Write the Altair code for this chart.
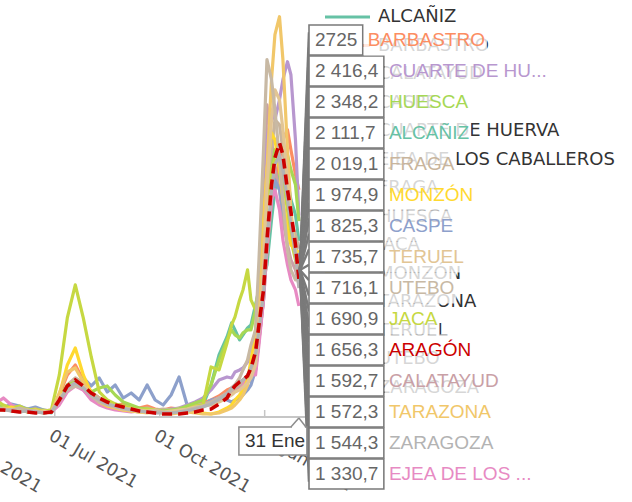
import altair as alt
import pandas as pd

# ---------------- data ----------------
dates = [
    "2021-05-10", "2021-05-17", "2021-05-24", "2021-05-31", "2021-06-07", "2021-06-14",
    "2021-06-21", "2021-06-28", "2021-07-05", "2021-07-12", "2021-07-19", "2021-07-26",
    "2021-08-02", "2021-08-09", "2021-08-16", "2021-08-23", "2021-08-30", "2021-09-06",
    "2021-09-13", "2021-09-20", "2021-09-27", "2021-10-04", "2021-10-11", "2021-10-18",
    "2021-10-25", "2021-11-01", "2021-11-08", "2021-11-15", "2021-11-22", "2021-11-29",
    "2021-12-03", "2021-12-06", "2021-12-10", "2021-12-13", "2021-12-17", "2021-12-20",
    "2021-12-24", "2021-12-27", "2021-12-31", "2022-01-03", "2022-01-07", "2022-01-10",
    "2022-01-14", "2022-01-17", "2022-01-21", "2022-01-24", "2022-01-28", "2022-01-31",
]

alcaniz = [84, 108, 72, 96, 60, 84, 72, 48,
           204, 324, 384, 348, 264, 204,
           168, 144, 120, 108, 84, 72, 84, 72, 60, 84, 108, 144, 144, 384, 744, 960,
           1128, 1044, 924, 984, 1068, 1104, 1344, 1524, 1668, 1824, 2364, 2724, 2964, 3024, 2844, 2604, 2424, 2111.7]
aragon = [84, 84, 72, 60, 60, 48, 48, 60,
          204, 372, 444, 372, 288, 228,
          180, 144, 120, 96, 72, 60, 48, 36, 36, 36, 48, 60, 84, 96, 156, 228,
          324, 372, 420, 444, 492, 588, 780, 1104, 1524, 2124, 2784, 3108, 3288, 3144, 2724, 2460, 2064, 1656.3]
barbastro = [144, 108, 132, 96, 84, 108, 72, 84,
             264, 504, 624, 444, 300, 228,
             180, 144, 156, 120, 108, 132, 96, 84, 108, 96, 120, 144, 168, 204, 252, 324,
             348, 384, 408, 444, 492, 540, 564, 924, 1404, 2004, 2604, 2844, 3084, 3324, 3444, 3204, 2904, 2725]
calatayud = [96, 120, 84, 72, 96, 60, 84, 72,
             180, 324, 420, 360, 264, 204,
             168, 132, 108, 96, 84, 72, 60, 72, 84, 72, 96, 120, 144, 180, 228, 276,
             300, 324, 360, 384, 420, 444, 684, 1404, 2604, 3744, 3324, 2964, 2724, 2364, 2064, 1884, 1764, 1592.7]
caspe = [144, 108, 156, 132, 96, 120, 84, 72,
         204, 324, 384, 468, 372, 468,
         300, 384, 228, 288, 204, 384, 204, 144, 264, 480, 144, 108, 144, 204, 228, 204,
         180, 204, 228, 264, 324, 384, 564, 924, 1404, 2124, 2604, 2844, 2724, 2484, 2244, 2124, 2124, 1825.3]
cuarte = [120, 96, 84, 108, 72, 84, 60, 72,
          204, 348, 384, 324, 228, 168,
          144, 108, 84, 72, 60, 60, 72, 84, 96, 108, 144, 180, 228, 324, 444, 480,
          468, 540, 564, 588, 660, 720, 684, 1164, 2124, 3324, 3684, 3564, 3804, 4044, 4260, 4104, 3324, 2416.4]
ejea = [156, 228, 144, 108, 84, 96, 72, 60,
        144, 300, 372, 324, 204, 144,
        108, 84, 72, 60, 72, 60, 48, 60, 72, 84, 96, 120, 144, 180, 228, 288,
        324, 348, 372, 396, 444, 504, 504, 864, 1404, 2004, 2604, 2724, 2484, 2124, 1824, 1644, 1524, 1330.7]
fraga = [132, 96, 108, 84, 96, 72, 60, 84,
         228, 384, 468, 408, 300, 228,
         180, 156, 132, 120, 96, 108, 84, 96, 84, 108, 120, 144, 156, 180, 228, 288,
         324, 348, 384, 444, 504, 588, 744, 1164, 1884, 2604, 3204, 3564, 3504, 3204, 2724, 2364, 2184, 2019.1]
huesca = [108, 132, 96, 84, 96, 72, 84, 60,
          228, 384, 420, 384, 300, 348,
          372, 264, 180, 144, 108, 96, 84, 72, 84, 96, 132, 168, 204, 384, 684, 924,
          1044, 984, 948, 1008, 1044, 1044, 1284, 1584, 2124, 2604, 2964, 3204, 3264, 3204, 3144, 2964, 2784, 2348.2]
jaca = [204, 144, 108, 132, 84, 96, 72, 84,
        504, 1188, 1584, 1188, 720, 300,
        204, 156, 132, 108, 84, 96, 84, 60, 72, 84, 96, 132, 144, 600, 564, 888,
        1104, 1200, 1404, 1524, 1764, 1404, 1284, 1524, 2004, 2604, 2964, 3084, 3024, 2844, 2484, 2124, 1884, 1690.9]
monzon = [96, 84, 120, 72, 84, 60, 72, 60,
          264, 624, 828, 504, 288, 180,
          132, 108, 84, 72, 60, 72, 60, 48, 60, 72, 84, 60, 48, 36, 60, 108,
          144, 204, 264, 324, 444, 684, 1044, 1524, 2364, 2964, 3408, 3324, 2964, 2604, 2244, 2064, 2004, 1974.9]
tarazona = [84, 108, 72, 96, 60, 84, 48, 60,
            288, 540, 588, 420, 276, 180,
            144, 108, 84, 72, 60, 48, 60, 48, 36, 48, 60, 48, 36, 36, 48, 84,
            108, 144, 204, 264, 384, 564, 804, 1284, 2124, 2964, 4044, 4584, 4800, 4284, 3204, 2484, 1944, 1572.3]
teruel = [108, 84, 96, 72, 84, 60, 72, 60,
          228, 348, 408, 372, 264, 204,
          156, 132, 108, 96, 84, 72, 84, 60, 72, 84, 96, 120, 132, 144, 180, 228,
          264, 300, 324, 360, 408, 468, 624, 1044, 1764, 2724, 3564, 3924, 3804, 3444, 2844, 2364, 2004, 1735.7]
utebo = [120, 96, 84, 108, 84, 72, 48, 60,
         204, 324, 372, 348, 252, 180,
         144, 120, 96, 84, 72, 60, 72, 60, 48, 60, 84, 108, 132, 168, 204, 264,
         324, 384, 468, 564, 684, 864, 1044, 1884, 3204, 4284, 4044, 3684, 3084, 2604, 2004, 1764, 1644, 1716.1]
zaragoza = [96, 84, 72, 60, 72, 60, 48, 60,
            192, 348, 408, 348, 264, 204,
            156, 132, 108, 84, 72, 60, 48, 48, 48, 60, 72, 96, 120, 156, 216, 276,
            348, 384, 420, 444, 492, 588, 744, 1044, 1464, 2124, 2724, 3024, 3144, 2964, 2604, 2304, 1944, 1544.3]

series_names = ["ALCAÑIZ", "ARAGÓN", "BARBASTRO", "CALATAYUD", "CASPE", "CUARTE DE HUERVA",
                "EJEA DE LOS CABALLEROS", "FRAGA", "HUESCA", "JACA", "MONZÓN", "TARAZONA",
                "TERUEL", "UTEBO", "ZARAGOZA"]
series_values = [alcaniz, aragon, barbastro, calatayud, caspe, cuarte, ejea, fraga, huesca,
                 jaca, monzon, tarazona, teruel, utebo, zaragoza]
series_colors = ["#66c2a5", "#cc0000", "#fc8d62", "#c9a0a6", "#8da0cb", "#b897cf", "#e78ac3",
                 "#c9b59c", "#a6d854", "#c6d842", "#ffd92f", "#f1c76a", "#e2c594", "#c8b9a4",
                 "#b3b3b3"]
total_name = "ARAGÓN"

tick_dates = ["2021-04-01", "2021-07-01", "2021-10-01", "2022-01-01"]
hover_label = "31 Ene"

# ---------------- layout constants ----------------
W, H = 632, 417
X_START = alt.DateTime(year=2021, month=5, date=14)
X_END = alt.DateTime(year=2022, month=11, date=19)
AXIS_END = "2022-02-08"
Y_MAX = 5000
FONT_TIP = "Liberation Sans"
FONT_LEG = "DejaVu Sans"

# ---------------- tables ----------------
fechas = pd.to_datetime(dates)
rows = []
for name, vals in zip(series_names, series_values):
    for f, v in zip(fechas, vals):
        rows.append({"fecha": f, "serie": name, "valor": v})
df = pd.DataFrame(rows)
df_others = df[df["serie"] != total_name]
df_total = df[df["serie"] == total_name]

xs = alt.Scale(domain=[X_START, X_END])
ys = alt.Scale(domain=[0, Y_MAX])
X = alt.X("fecha:T", scale=xs, axis=None, title=None)
Y = alt.Y("valor:Q", scale=ys, axis=None, title=None)

base_df = pd.DataFrame({"fecha": [pd.Timestamp("2021-05-14")], "fecha2": [pd.Timestamp(AXIS_END)], "valor": [0]})
ticks_df = pd.DataFrame({"fecha": pd.to_datetime(tick_dates), "valor": 0})
ticks_df["label"] = [t.strftime("%d %b %Y") for t in ticks_df["fecha"]]

baseline = alt.Chart(base_df).mark_rule(color="#c6c6c6", strokeWidth=2).encode(
    x=X, x2=alt.X2("fecha2:T"), y=Y)
ticks = alt.Chart(ticks_df).mark_rule(color="#c6c6c6", strokeWidth=1.5, y2Offset=-7, clip=True).encode(
    x=X, y=Y, y2=alt.Y2("valor:Q"))
tick_labels = alt.Chart(ticks_df).mark_text(
    angle=30, align="left", baseline="top", yOffset=10, font=FONT_LEG, fontSize=17.5,
    color="#555555").encode(x=X, y=Y, text="label:N")

others_names = [n for n in series_names if n != total_name]
others_colors = [c for n, c in zip(series_names, series_colors) if n != total_name]
total_color = series_colors[series_names.index(total_name)]

lines = alt.Chart(df_others).mark_line(strokeWidth=3.2, clip=True, strokeJoin="round").encode(
    x=X, y=Y,
    color=alt.Color("serie:N", scale=alt.Scale(domain=others_names, range=others_colors), legend=None))
total_line = alt.Chart(df_total).mark_line(strokeWidth=3.6, strokeDash=[10, 6], clip=True,
                                           color=total_color).encode(x=X, y=Y)

main = alt.layer(baseline, ticks, lines, total_line, tick_labels)

# ---------------- legend (partly covered) ----------------
leg_df = pd.DataFrame({"name": others_names, "color": others_colors})
leg_df["k"] = range(len(leg_df))
LEG_Y = alt.Y("k:Q", scale=alt.Scale(domain=[0, len(leg_df) - 1],
                                     range=[17, 17 + 28.5 * (len(leg_df) - 1)]), axis=None)
leg_sym = alt.Chart(leg_df).mark_rule(strokeWidth=3).encode(
    x=alt.value(325), x2=alt.value(370), y=LEG_Y, color=alt.Color("color:N", scale=None))
leg_txt = alt.Chart(leg_df).mark_text(align="left", baseline="middle", font=FONT_LEG,
                                      fontSize=18, color="#333333").encode(
    x=alt.value(378), y=LEG_Y, text="name:N")
legend = alt.layer(leg_sym, leg_txt)

# ---------------- split tooltip ----------------
LW = {" ": .278, ",": .278, ".": .278, "A": .667, "B": .667, "C": .722, "D": .722, "E": .667,
      "F": .611, "G": .778, "H": .722, "I": .278, "J": .5, "K": .667, "L": .556, "M": .833,
      "N": .722, "Ñ": .722, "O": .778, "Ó": .778, "P": .667, "R": .722, "S": .667, "T": .611,
      "U": .722, "Y": .667, "Z": .611}


def text_w(s, size=19):
    return sum(LW.get(c, .556) for c in s) * size


def fmt(v):
    if float(v).is_integer():
        return str(int(v))
    return f"{v:,.1f}".replace(",", " ").replace(".", ",")


def short(n):
    return n if len(n) <= 14 else n[:12] + "..."


tip = sorted([(n, v[-1], c) for n, v, c in zip(series_names, series_values, series_colors)],
             key=lambda t: -t[1])
BOX_X0 = 309
tip_df = pd.DataFrame({"name": [t[0] for t in tip], "val": [t[1] for t in tip],
                       "color": [t[2] for t in tip]})
tip_df["row"] = range(len(tip_df))
tip_df["valtxt"] = [fmt(v) for v in tip_df["val"]]
tip_df["disp"] = [short(n) for n in tip_df["name"]]
tip_df["bx0"] = BOX_X0
tip_df["bx1"] = [BOX_X0 + 6 + text_w(s) + 5.5 for s in tip_df["valtxt"]]
tip_df["ox0"] = tip_df["bx1"] + 1
tip_df["nx"] = tip_df["bx1"] + 5
tip_df["nend"] = [x + text_w(s) + 2 for x, s in zip(tip_df["nx"], tip_df["disp"])]
tip_df["r0"] = tip_df["row"] - 0.484
tip_df["r1"] = tip_df["row"] + 0.484
tip_df["o0"] = tip_df["row"] - 0.5
tip_df["o1"] = tip_df["row"] + 0.5
tip_df["c0"] = tip_df["row"] - 0.25
tip_df["c1"] = tip_df["row"] + 0.25
ROW0, STEP = 40, 31
ANCHOR_X, ANCHOR_PX = 300, 270
tip_df["ax"] = ANCHOR_X
tip_df["ay"] = (ANCHOR_PX - ROW0) / STEP

n = len(tip_df)
TX = alt.Scale(domain=[0, W])
TY = alt.Scale(domain=[0, n - 1], range=[ROW0, ROW0 + STEP * (n - 1)])

conn_a = alt.Chart(tip_df).mark_rule(color="#7a7a7a", strokeWidth=2.5).encode(
    x=alt.X("bx0:Q", scale=TX, axis=None), x2="ax:Q",
    y=alt.Y("c0:Q", scale=TY, axis=None), y2="ay:Q")
conn_b = alt.Chart(tip_df).mark_rule(color="#7a7a7a", strokeWidth=2.5).encode(
    x=alt.X("bx0:Q", scale=TX, axis=None), x2="ax:Q",
    y=alt.Y("c1:Q", scale=TY, axis=None), y2="ay:Q")
boxes = alt.Chart(tip_df).mark_rect(fill="white", stroke="#7a7a7a", strokeWidth=1.6).encode(
    x=alt.X("bx0:Q", scale=TX, axis=None), x2="bx1:Q",
    y=alt.Y("r0:Q", scale=TY, axis=None), y2="r1:Q")
veil = alt.Chart(tip_df).mark_rect(fill="white", opacity=0.8, strokeWidth=0).encode(
    x=alt.X("ox0:Q", scale=TX, axis=None), x2="nend:Q",
    y=alt.Y("o0:Q", scale=TY, axis=None), y2="o1:Q")
vals = alt.Chart(tip_df).mark_text(align="left", baseline="middle", font=FONT_TIP, fontSize=19,
                                   color="#666666").encode(
    x=alt.value(BOX_X0 + 6), y=alt.Y("row:Q", scale=TY, axis=None), text="valtxt:N")
names = alt.Chart(tip_df).mark_text(align="left", baseline="middle", font=FONT_TIP,
                                    fontSize=19).encode(
    x=alt.X("nx:Q", scale=TX, axis=None), y=alt.Y("row:Q", scale=TY, axis=None),
    text="disp:N", color=alt.Color("color:N", scale=None))
tooltip = alt.layer(conn_a, conn_b, boxes, veil, vals, names)

# ---------------- tooltip header "31 Ene" ----------------
hdr_df = pd.DataFrame({"fecha": [fechas[-1]], "valor": [0], "label": [hover_label]})
HX = alt.X("fecha:T", scale=xs, axis=None)
HY = alt.Y("valor:Q", scale=ys, axis=None)
hdr_box = alt.Chart(hdr_df).mark_rect(fill="white", stroke="#8c8c8c", strokeWidth=1.5,
                                      xOffset=-60, x2Offset=8, yOffset=10, y2Offset=38).encode(
    x=HX, x2="fecha:T", y=HY, y2="valor:Q")
hdr_gap = alt.Chart(hdr_df).mark_rect(fill="white", xOffset=-7, x2Offset=6, yOffset=9,
                                      y2Offset=11).encode(x=HX, x2="fecha:T", y=HY, y2="valor:Q")
hdr_p1 = alt.Chart(hdr_df).mark_rule(color="#8c8c8c", strokeWidth=1.5, xOffset=-8, x2Offset=0,
                                     yOffset=10, y2Offset=1).encode(x=HX, x2="fecha:T", y=HY, y2="valor:Q")
hdr_p2 = alt.Chart(hdr_df).mark_rule(color="#8c8c8c", strokeWidth=1.5, xOffset=0, x2Offset=7,
                                     yOffset=1, y2Offset=10).encode(x=HX, x2="fecha:T", y=HY, y2="valor:Q")
hdr_txt = alt.Chart(hdr_df).mark_text(align="left", baseline="middle", dx=-54, dy=24,
                                      font=FONT_TIP, fontSize=19, color="#333333").encode(
    x=HX, y=HY, text="label:N")
header = alt.layer(hdr_box, hdr_gap, hdr_p1, hdr_p2, hdr_txt)

chart = alt.layer(main, legend, tooltip, header).resolve_scale(
    x="independent", y="independent", color="independent"
).properties(
    width=W, height=H, autosize="none",
    padding={"left": 0, "top": 0, "right": 0, "bottom": 502 - H},
    background="white",
).configure_view(stroke=None)

chart.save("out.html", embed_options={"renderer": "svg", "actions": False})
